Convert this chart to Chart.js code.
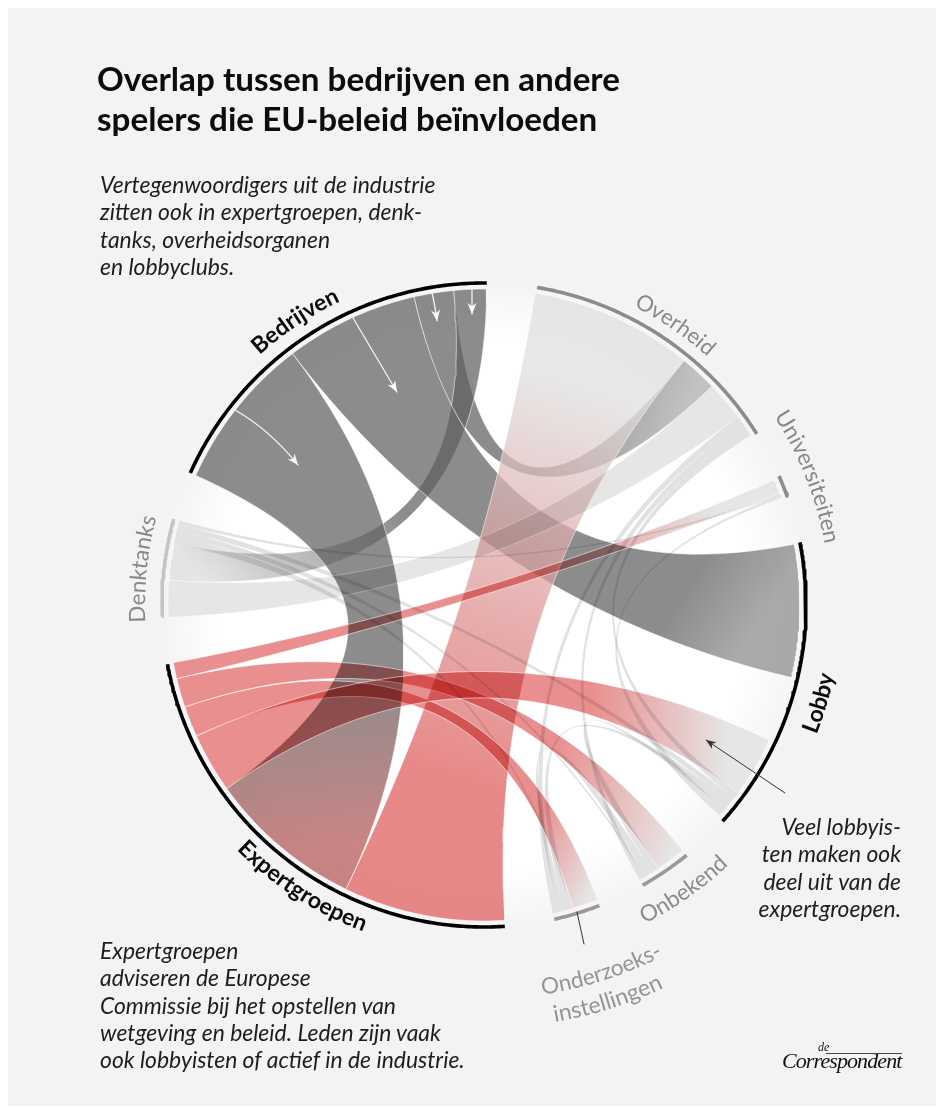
<!DOCTYPE html>
<html lang="nl">
<head>
<meta charset="UTF-8">
<title>Overlap tussen bedrijven en andere spelers</title>
<script src="https://cdn.jsdelivr.net/npm/chart.js"></script>
<style>
    html, body { margin: 0; padding: 0; background: #fff; }
    #page { position: relative; width: 936px; height: 1108px; overflow: hidden; }
    #panel { position: absolute; left: 8px; top: 8px; width: 928px; height: 1098px; background: #f3f3f3; }
    #glow { position: absolute; left: 154px; top: 275px; width: 660px; height: 660px; border-radius: 50%;
        background: radial-gradient(circle closest-side, #fff 0%, #fff 80%, #f3f3f3 100%); }
    #chartWrap { position: absolute; left: 0; top: 0; width: 936px; height: 1108px; }
    svg { position: absolute; left: 0; top: 0; }
    .title { position: absolute; left: 97px; top: 59px; font: 700 33.2px/39.5px Lato, sans-serif; color: #0c0c0c; white-space: nowrap; }
    .note { position: absolute; font: italic 400 22.9px/27.3px Lato, sans-serif; color: #1d1d1d; white-space: nowrap; }
    .logo { position: absolute; left: 782px; top: 1048px; font: italic 400 22px/26px "Liberation Serif", serif; color: #111; letter-spacing: -0.9px; }
    .rule { position: absolute; left: 826px; top: 1053px; width: 76px; height: 1px; background: #444; }
</style>
</head>
<body>
<div id="page">
    <div id="panel"></div>
    <div id="glow"></div>
    <div id="chartWrap"><canvas id="chord" width="936" height="1108"></canvas></div>
    <svg id="labels" width="936" height="1108"></svg>
    <div class="title">Overlap tussen bedrijven en andere<br>spelers die EU-beleid beïnvloeden</div>
    <div class="note" style="left:100px;top:171px">Vertegenwoordigers uit de industrie<br>zitten ook in expertgroepen, denk-<br>tanks, overheidsorganen<br>en lobbyclubs.</div>
    <div class="note" style="left:100px;top:937px">Expertgroepen<br>adviseren de Europese<br>Commissie bij het opstellen van<br>wetgeving en beleid. Leden zijn vaak<br>ook lobbyisten of actief in de industrie.</div>
    <div class="note" style="right:35px;top:813px;text-align:right">Veel lobbyis-<br>ten maken ook<br>deel uit van de<br>expertgroepen.</div>
    <div class="logo">Correspondent</div>
    <div class="rule"></div>
    <div class="logo" style="left:818px;top:1041px;font-size:12px;line-height:12px;letter-spacing:0">de</div>
</div>

<script>
    // Groups around the circle, angles in degrees clockwise from the top
    const groupNames = ["Bedrijven", "Overheid", "Universiteiten", "Lobby", "Onbekend", "Onderzoeksinstellingen", "Expertgroepen", "Denktanks"];
    const groupStart = [294.2, 9.5, 66.4, 78.8, 141.0, 159.0, 176.3, 267.9];
    const groupEnd = [360.5, 57.9, 70.2, 132.2, 150.5, 167.4, 259.4, 285.5];
    const groupColor = ["#000", "#8c8c8c", "#8c8c8c", "#000", "#999", "#999", "#000", "#c4c4c4"];

    // Drawn in this order: grey, the big Overheid flow, then everything that darkens what is under it.
    const flowFrom = ["Bedrijven", "Bedrijven", "Bedrijven", "Bedrijven", "Overheid", "Overheid", "Lobby", "Denktanks", "Denktanks", "Denktanks", "Denktanks", "Onderzoeks", "Onbekend", "Onbekend", "Overheid", "Overheid", "Overheid", "Universiteiten", "Expertgroepen", "Expertgroepen", "Expertgroepen", "Expertgroepen"];
    const flowTo = ["Overheid", "Denktanks", "Lobby", "Expertgroepen", "Expertgroepen", "Denktanks", "Lobby", "Onderzoeks", "Onbekend", "Lobby", "Universiteiten", "Lobby", "Lobby", "Onderzoeks", "Onderzoeks", "Onbekend", "Lobby", "Lobby", "Universiteiten", "Onderzoeks", "Onbekend", "Lobby"];
    const fromA = [347.2, 354.5, 322.7, 294.2, 9.3, 46.2, 103.3, 281.2, 282.6, 283.8, 284.9, 164.0, 146.5, 147.8, 53.5, 54.8, 56.2, 69.7, 256.5, 245.5, 251.2, 234.5];
    const fromB = [354.5, 360.5, 347.2, 322.7, 39.3, 53.5, 115.3, 282.6, 283.8, 284.9, 285.5, 165.2, 147.8, 149.2, 54.8, 56.2, 57.5, 70.2, 259.5, 251.2, 256.5, 245.5];
    const toA = [39.3, 274.5, 78.9, 205.9, 176.2, 267.8, 115.3, 163.6, 149.2, 127.6, 69.3, 128.6, 129.6, 165.2, 166.2, 149.6, 126.5, 130.4, 66.7, 158.9, 141.0, 115.3];
    const toB = [46.2, 281.2, 103.3, 234.5, 205.9, 274.5, 103.3, 164.0, 149.6, 128.6, 69.7, 129.6, 130.4, 166.2, 167.4, 150.5, 127.6, 131.8, 69.3, 163.6, 146.5, 126.5];

    const pale = "#e6e6e6", thin = "#e2e2e2", red = "#e98f8f";
    const grey = "rgba(94,94,94,0.713)", pink = "rgba(222,88,88,0.713)";

    // One colour per end of the flow, and where along it the colour changes
    const flowStartColor = [grey, grey, grey, grey, "rgba(222,222,222,0.713)", pale, pale, thin, thin, thin, thin, thin, thin, thin, thin, thin, thin, thin, red, red, red, red];
    const flowEndColor = ["rgba(172,172,172,0.713)", "rgba(220,220,220,0.713)", "rgba(137,137,137,0.713)", "rgba(179,84,84,0.713)", pink, pale, pale, thin, thin, thin, thin, thin, thin, thin, thin, thin, thin, thin, pale, pale, pale, pale];
    const flowFadeFrom = [0.55, 0.5, 0.8, 0.62, 0.12, 0, 0, 0, 0, 0, 0, 0, 0, 0, 0, 0, 0, 0, 0.6, 0.82, 0.72, 0.7];
    const flowFadeTo = [1, 0.97, 0.95, 1, 0.78, 1, 1, 1, 1, 1, 1, 1, 1, 1, 1, 1, 1, 1, 0.9, 1, 1, 0.95];
    // Grey and the big flow lie over each other, the rest multiplies
    const flowBlend = flowStartColor.map((c, i) => i < 5 ? "source-over" : "multiply");

    // Extra marks: white arrows in the Bedrijven flows
    const arrowFrom = [[235, 410], [353, 318], [432, 293], [472, 290]];
    const arrowVia = [[270, 430], [372, 350], [435, 305], [472, 300]];
    const arrowTo = [[298, 465], [397, 392], [437, 321], [472, 314]];

    const centerX = 484, centerY = 605, ribbonR = 316, arcR = 322;

    function polar(angle, r) {
        const a = angle * Math.PI / 180;
        return { x: centerX + r * Math.sin(a), y: centerY - r * Math.cos(a) };
    }

    function arcPoints(a, b, r) {
        const pts = [];
        const n = Math.max(2, Math.ceil(Math.abs(b - a) * 2));
        for (let i = 0; i <= n; i++) pts.push(polar(a + (b - a) * i / n, r));
        return pts;
    }

    // Curve between two rim points, pulled toward the centre
    function curvePoints(p, q) {
        const pts = [];
        for (let i = 1; i < 40; i++) {
            const t = i / 40, u = 1 - t;
            pts.push({
                x: u * u * p.x + 2 * u * t * centerX + t * t * q.x,
                y: u * u * p.y + 2 * u * t * centerY + t * t * q.y
            });
        }
        return pts;
    }

    function ribbonPoints(i) {
        const s = arcPoints(fromA[i], fromB[i], ribbonR);
        const t = arcPoints(toA[i], toB[i], ribbonR);
        const sEnd = s[s.length - 1], tEnd = t[t.length - 1];
        return [...s, ...curvePoints(sEnd, t[0]), ...t, ...curvePoints(tEnd, s[0]), s[0]];
    }

    const ribbonSets = flowFrom.map((name, i) => ({
        label: name + " - " + flowTo[i],
        data: ribbonPoints(i),
        showLine: true,
        pointRadius: 0,
        borderWidth: flowStartColor[i] === thin ? 0 : 0.9,
        borderColor: flowStartColor[i] === pale ? "rgba(255,255,255,0.3)" : "rgba(255,255,255,0.6)",
        ribbon: i,
        order: 100 - i
    }));

    const arcSets = groupNames.map((name, i) => ({
        label: name,
        data: arcPoints(groupStart[i], groupEnd[i], arcR),
        showLine: true,
        pointRadius: 0,
        borderWidth: 3.6,
        borderColor: groupColor[i],
        borderJoinStyle: "round",
        order: 0
    }));

    const ribbonPlugin = {
        id: "ribbons",
        beforeDatasetDraw(chart, args) {
            const ds = chart.data.datasets[args.index];
            if (ds.ribbon === undefined) return;
            const i = ds.ribbon, ctx = chart.ctx, pts = args.meta.data;
            const mid = (a, b) => polar((a + b) / 2, ribbonR);
            const p = mid(fromA[i], fromB[i]), q = mid(toA[i], toB[i]);
            const x = chart.scales.x, y = chart.scales.y;
            const g = ctx.createLinearGradient(x.getPixelForValue(p.x), y.getPixelForValue(p.y), x.getPixelForValue(q.x), y.getPixelForValue(q.y));
            g.addColorStop(0, flowStartColor[i]);
            g.addColorStop(flowFadeFrom[i], flowStartColor[i]);
            g.addColorStop(flowFadeTo[i], flowEndColor[i]);
            g.addColorStop(1, flowEndColor[i]);
            ctx.save();
            ctx.beginPath();
            pts.forEach((pt, k) => k ? ctx.lineTo(pt.x, pt.y) : ctx.moveTo(pt.x, pt.y));
            ctx.closePath();
            ctx.fillStyle = g;
            ctx.globalCompositeOperation = flowBlend[i];
            ctx.fill();
            ctx.restore();
        },
        afterDatasetsDraw(chart) {
            const ctx = chart.ctx, x = chart.scales.x, y = chart.scales.y;
            const px = p => [x.getPixelForValue(p[0]), y.getPixelForValue(p[1])];
            ctx.save();
            ctx.lineCap = "round";
            arrowFrom.forEach((start, i) => {
                const a = px(start), b = px(arrowVia[i]), c = px(arrowTo[i]);
                ctx.strokeStyle = ctx.fillStyle = "rgba(255,255,255,0.95)";
                ctx.lineWidth = 1.2;
                ctx.beginPath();
                ctx.moveTo(a[0], a[1]);
                ctx.quadraticCurveTo(b[0], b[1], c[0], c[1]);
                ctx.stroke();
                head(ctx, b, c, 11, 4.5);
            });
            // pointer from the lobby note and the tick under the Onderzoeks label
            const p0 = px([785, 793]), p1 = px([706, 740]);
            ctx.strokeStyle = ctx.fillStyle = "#333";
            ctx.lineWidth = 1;
            ctx.beginPath();
            ctx.moveTo(p0[0], p0[1]);
            ctx.lineTo(p1[0], p1[1]);
            ctx.stroke();
            head(ctx, p0, p1, 10, 4);
            const t0 = px([577, 912]), t1 = px([584, 944]);
            ctx.beginPath();
            ctx.moveTo(t0[0], t0[1]);
            ctx.lineTo(t1[0], t1[1]);
            ctx.stroke();
            ctx.restore();
        }
    };

    function head(ctx, from, to, len, w) {
        const a = Math.atan2(to[1] - from[1], to[0] - from[0]);
        ctx.beginPath();
        ctx.moveTo(to[0], to[1]);
        ctx.lineTo(to[0] - len * Math.cos(a) - w * Math.sin(a), to[1] - len * Math.sin(a) + w * Math.cos(a));
        ctx.lineTo(to[0] - len * 0.7 * Math.cos(a), to[1] - len * 0.7 * Math.sin(a));
        ctx.lineTo(to[0] - len * Math.cos(a) + w * Math.sin(a), to[1] - len * Math.sin(a) - w * Math.cos(a));
        ctx.closePath();
        ctx.fill();
    }

    new Chart(document.getElementById("chord"), {
        type: "scatter",
        data: { datasets: [...ribbonSets, ...arcSets] },
        options: {
            responsive: false,
            animation: false,
            layout: { padding: 0 },
            plugins: { legend: { display: false }, tooltip: { enabled: false } },
            scales: {
                x: { type: "linear", display: false, min: 0, max: 936 },
                y: { type: "linear", display: false, min: 0, max: 1108, reverse: true }
            }
        },
        plugins: [ribbonPlugin]
    });

    // Labels that follow the circle
    const labelText = ["Bedrijven", "Overheid", "Universiteiten", "Lobby", "Onbekend", "Onderzoeks-", "instellingen", "Expertgroepen", "Denktanks"];
    const labelAngle = [326.4, 34.3, 68.4, 106.3, 145, 162.2, 162.6, 212.8, 276];
    const labelRadius = [336, 334, 346, 357, 357, 394, 423, 348, 339];
    const labelSize = [23, 22, 22.5, 23, 22.5, 22.5, 23, 23, 22.5];
    const labelClockwise = [true, true, true, false, false, false, false, false, true];
    const labelColor = ["#0b0b0b", "#888", "#888", "#0b0b0b", "#8c8c8c", "#949494", "#949494", "#0b0b0b", "#888"];
    const labelWeight = [700, 400, 400, 700, 400, 400, 400, 700, 400];

    const svg = document.getElementById("labels");
    const NS = "http://www.w3.org/2000/svg";
    labelText.forEach((text, i) => {
        const span = 70, a0 = labelAngle[i] - span, a1 = labelAngle[i] + span;
        const r = labelRadius[i], cw = labelClockwise[i];
        const s = polar(cw ? a0 : a1, r), e = polar(cw ? a1 : a0, r);
        const path = document.createElementNS(NS, "path");
        path.setAttribute("id", "lab" + i);
        path.setAttribute("fill", "none");
        path.setAttribute("d", `M${s.x} ${s.y}A${r} ${r} 0 0 ${cw ? 1 : 0} ${e.x} ${e.y}`);
        svg.appendChild(path);
        const t = document.createElementNS(NS, "text");
        t.setAttribute("font-family", "Lato, sans-serif");
        t.setAttribute("font-size", labelSize[i]);
        t.setAttribute("font-weight", labelWeight[i]);
        t.setAttribute("fill", labelColor[i]);
        t.setAttribute("text-anchor", "middle");
        const tp = document.createElementNS(NS, "textPath");
        tp.setAttribute("href", "#lab" + i);
        tp.setAttribute("startOffset", "50%");
        tp.textContent = text;
        t.appendChild(tp);
        svg.appendChild(t);
    });
</script>
</body>
</html>
